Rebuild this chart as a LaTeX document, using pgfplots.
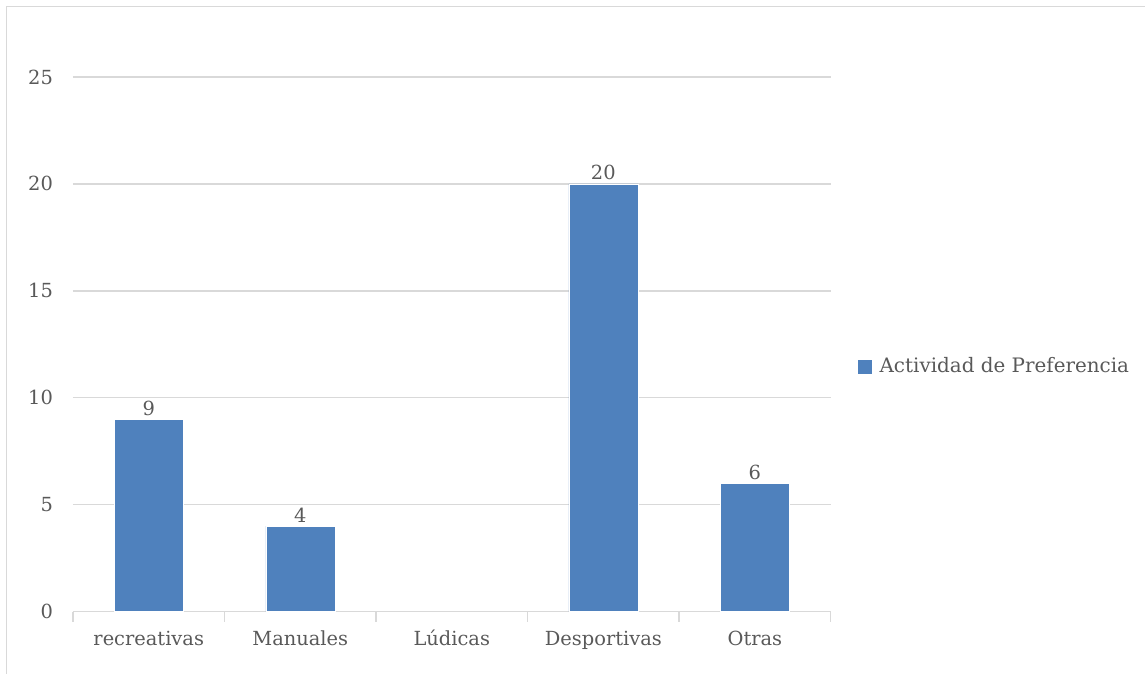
\documentclass[border=0pt]{standalone}
\usepackage{pgfplots}
\pgfplotsset{compat=1.18}
\usepackage{fontspec}
\setmainfont{DejaVu Serif}
\definecolor{barblue}{HTML}{4F81BD}
\definecolor{gridgray}{HTML}{D9D9D9}
\definecolor{txtgray}{HTML}{595959}
\begin{document}
\fontsize{20}{24}\selectfont
\begin{tikzpicture}[x=1bp,y=1bp]
\begin{axis}[
    name=ax,
    at={(0,0)}, anchor=south west,
    scale only axis,
    width=758bp, height=535bp,
    ybar, bar width=69bp,
    xmin=-0.5, xmax=4.5,
    ymin=0, ymax=25,
    ytick={0,5,...,25},
    xtick={0,...,4},
    xticklabels={recreativas,Manuales,Lúdicas,Desportivas,Otras},
    minor xtick={-0.5,0.5,...,4.5},
    axis x line*=bottom,
    axis y line*=left,
    y axis line style={draw=none},
    x axis line style={gridgray, line width=1.3bp},
    major x tick style={draw=none},
    minor x tick style={gridgray, line width=1.3bp},
    minor tick length=10bp,
    tick align=outside,
    ytick style={draw=none},
    ymajorgrids,
    grid style={gridgray, line width=1.3bp},
    tick label style={font=\fontsize{19.5}{23}\selectfont, text=txtgray},
    /pgf/number format/assume math mode=true,
    xticklabel style={yshift=-9bp, text height=14bp, text depth=4bp},
    yticklabel style={xshift=-9bp},
    nodes near coords,
    every node near coord/.append style={font=\fontsize{19.5}{23}\selectfont, text=txtgray, yshift=-3bp},
    legend style={at={(1.036,0.458)}, anchor=west, draw=none, fill=none,
        font=\fontsize{20}{24}\selectfont, text=txtgray,
        legend cell align=left, inner sep=0pt,
        nodes={inner sep=0pt}},
    legend image code/.code={\fill[barblue] (0bp,-6bp) rectangle (13bp,7bp);
        \path (21bp,0bp);},
]
\addplot[fill=barblue, draw=white, line width=0.5bp] coordinates {
    (0,9) (1,4) (3,20) (4,6)
};
\legend{Actividad de Preferencia}
\end{axis}
\draw[gridgray, line width=1bp] (-66,-62) -- (-66,605) -- (1072,605);
\useasboundingbox (-73,-62) rectangle (1072,612);
\end{tikzpicture}
\end{document}
